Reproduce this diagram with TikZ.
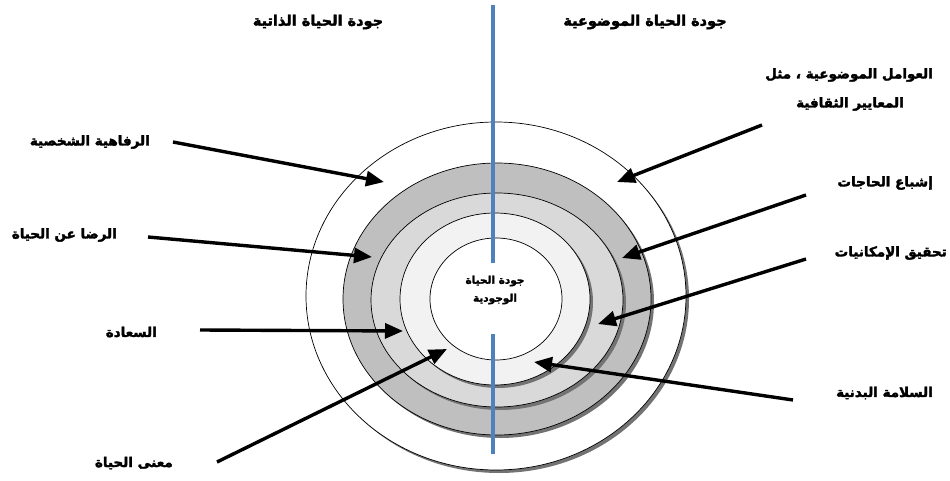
\documentclass[tikz,border=0pt]{standalone}
\usepackage{fontspec}
\newfontfamily\arabicfont[Script=Arabic, BoldFeatures={FakeBold=2.5}]{DejaVu Sans}
\TeXXeTstate=1
\usetikzlibrary{arrows.meta}

\definecolor{ringdark}{HTML}{BFBFBF}
\definecolor{ringmid}{HTML}{D9D9D9}
\definecolor{ringlight}{HTML}{F2F2F2}
\definecolor{axisblue}{HTML}{4F81BD}

\tikzset{
  ring/.style={draw=black, line width=0.7pt},
  ringshadow/.style={fill=black!55, draw=none},
  pointer/.style={line width=3.4pt, -{Triangle[length=18pt, width=15pt]}},
  axis/.style={draw=axisblue, line width=4.5pt},
  title/.style={font=\arabicfont\bfseries\fontsize{14.5}{17}\selectfont, inner sep=1pt},
  label/.style={font=\arabicfont\bfseries\fontsize{13.5}{15}\selectfont, inner sep=1pt},
  centre/.style={font=\arabicfont\bfseries\fontsize{10.5}{12}\selectfont, inner sep=1pt, align=center}
}

\begin{document}
\begin{tikzpicture}[x=1pt, y=-1pt]
\useasboundingbox (0,0) rectangle (950,481);

% rings
\draw[ringshadow] (499,299) ellipse [x radius=190, y radius=174];
\draw[ring, fill=white] (496,296) ellipse [x radius=190, y radius=174];
\draw[ringshadow] (500,302) ellipse [x radius=154, y radius=136];
\draw[ring, fill=ringdark] (497,299) ellipse [x radius=154, y radius=136];
\draw[ringshadow] (500,303) ellipse [x radius=126, y radius=107];
\draw[ring, fill=ringmid] (497,300) ellipse [x radius=126, y radius=107];
\draw[ringshadow] (498,302) ellipse [x radius=95, y radius=86];
\draw[ring, fill=ringlight] (495,299) ellipse [x radius=95, y radius=86];
\draw[ring, fill=white] (496,299) ellipse [x radius=66, y radius=61];

% axis
\coordinate (axtop) at (493,5);
\coordinate (axmidA) at (493,263);
\coordinate (axmidB) at (493,334);
\coordinate (axbot) at (493,454);
\draw[axis] (axtop) -- (axmidA);
\draw[axis] (axmidB) -- (axbot);

% titles
\node[title] (subj) at (318,22) {\beginR جودة الحياة الذاتية\endR};
\node[title] (obj) at (645,22) {\beginR جودة الحياة الموضوعية\endR};
\node[centre] (exist) at (495,290) {\beginR جودة الحياة\endR\\[6pt]\beginR الوجودية\endR};

% right labels
\node[label, anchor=east] (factors) at (934,75) {\beginR العوامل الموضوعية ، مثل\endR};
\node[label, anchor=east] (norms) at (905,104) {\beginR المعايير الثقافية\endR};
\node[label, anchor=east] (needs) at (934,183) {\beginR إشباع الحاجات\endR};
\node[label, anchor=east] (potent) at (948,253) {\beginR تحقيق الإمكانيات\endR};
\node[label, anchor=east] (health) at (934,393) {\beginR السلامة البدنية\endR};

% left labels
\node[label, anchor=east] (wellb) at (151,142) {\beginR الرفاهية الشخصية\endR};
\node[label, anchor=east] (satis) at (118,235) {\beginR الرضا عن الحياة\endR};
\node[label, anchor=east] (happy) at (158,332) {\beginR السعادة\endR};
\node[label, anchor=east] (meaning) at (174,463) {\beginR معنى الحياة\endR};

% arrow ends
\coordinate (rA) at (762,125);  \coordinate (rAt) at (617,182);
\coordinate (rB) at (806,195);  \coordinate (rBt) at (622,258);
\coordinate (rC) at (806,259);  \coordinate (rCt) at (598,324);
\coordinate (rD) at (793,400);  \coordinate (rDt) at (534,362);
\coordinate (lA) at (173,142);  \coordinate (lAt) at (384,182);
\coordinate (lB) at (148,237);  \coordinate (lBt) at (372,257);
\coordinate (lC) at (200,330);  \coordinate (lCt) at (403,331);
\coordinate (lD) at (217,462);  \coordinate (lDt) at (447,349);

\draw[pointer] (rA) -- (rAt);
\draw[pointer] (rB) -- (rBt);
\draw[pointer] (rC) -- (rCt);
\draw[pointer] (rD) -- (rDt);
\draw[pointer] (lA) -- (lAt);
\draw[pointer] (lB) -- (lBt);
\draw[pointer] (lC) -- (lCt);
\draw[pointer] (lD) -- (lDt);

\end{tikzpicture}
\end{document}
